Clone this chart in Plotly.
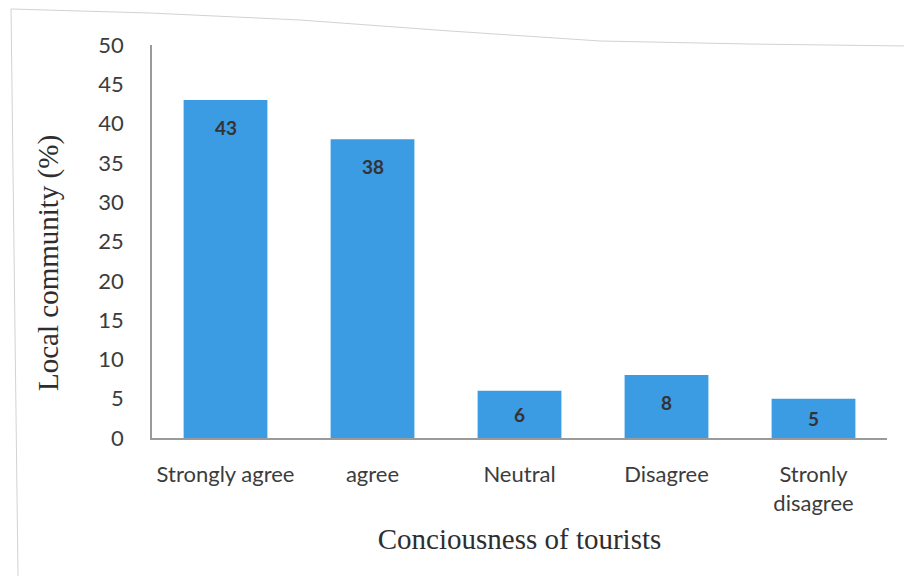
import plotly.graph_objects as go

# Survey responses: local community view of tourists' consciousness
categories = ["Strongly agree", "agree", "Neutral", "Disagree", "Stronly<br>disagree"]
percent = [43, 38, 6, 8, 5]
y_ticks = [0, 5, 10, 15, 20, 25, 30, 35, 40, 45, 50]

bar_color = "#3b9be3"
tick_font = dict(family="Lato, Open Sans, sans-serif", size=22, color="#3c3c3c")
title_font = dict(family="Liberation Serif, Times New Roman, serif", size=29, color="#2e2e2e")
label_font = dict(family="Lato, Open Sans, sans-serif", size=19, color="#333333", weight="bold")

# Plot area geometry (pixels)
W, H = 904, 576
ML, MR, MT, MB = 152, 17, 45, 138
plot_w = W - ML - MR
plot_h = H - MT - MB
y_max = 50
px_per_unit = plot_h / y_max

fig = go.Figure(
    go.Bar(
        x=categories,
        y=percent,
        marker=dict(color=bar_color, line=dict(width=0)),
        width=0.57,
        showlegend=False,
    )
)

# Value labels just inside the top of each bar
for cat, v in zip(categories, percent):
    fig.add_annotation(
        x=cat, y=v, xref="x", yref="y",
        text=str(v), showarrow=False,
        yanchor="middle",
        yshift=-min(27, v * px_per_unit / 2),
        font=label_font,
    )


def to_paper(px, py):
    return (px - ML) / plot_w, (MT + plot_h - py) / plot_h


# Vertical axis title, set slightly below the plot's vertical centre
tx, ty = to_paper(48, 263)
fig.add_annotation(
    x=tx, y=ty, xref="paper", yref="paper",
    text="Local community (%)", textangle=-90, showarrow=False,
    xanchor="center", yanchor="middle", font=title_font,
)

fig.update_layout(
    width=W,
    height=H,
    margin=dict(l=ML, r=MR, t=MT, b=MB),
    paper_bgcolor="white",
    plot_bgcolor="white",
)

fig.update_xaxes(
    showline=True,
    linecolor="#9a9a9a",
    linewidth=1.5,
    showgrid=False,
    ticks="",
    tickfont=tick_font,
    ticklabelstandoff=16,
    title=dict(text="Conciousness of tourists", font=title_font, standoff=14),
)

fig.update_yaxes(
    range=[0, y_max],
    tickvals=y_ticks,
    showline=True,
    linecolor="#9a9a9a",
    linewidth=1.5,
    showgrid=False,
    zeroline=False,
    ticks="",
    tickfont=tick_font,
    ticklabelstandoff=22,
)

# Thin page border around the chart
border_pts = [(18, 576), (11, 9), (150, 13), (300, 20), (450, 31), (600, 41), (750, 44), (904, 46)]
path = ""
for i, (px, py) in enumerate(border_pts):
    xp, yp = to_paper(px, py)
    path += ("M" if i == 0 else " L") + f"{xp:.4f},{yp:.4f}"
fig.add_shape(type="path", path=path, xref="paper", yref="paper",
              line=dict(color="#d2d2d2", width=1))

fig.write_html("out.html")
